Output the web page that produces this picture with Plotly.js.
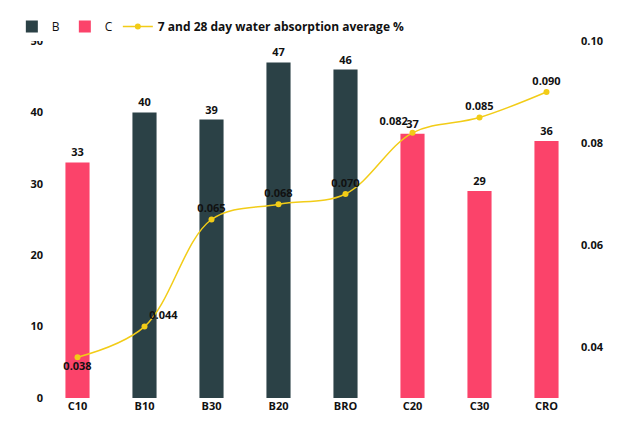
<!DOCTYPE html><html><head><script src="https://cdn.plot.ly/plotly-3.0.1.min.js"></script></head><body style="margin:0"><div id="c" style="width:640px;height:424px"></div><script>
const categories=["C10","B10","B30","B20","BRO","C20","C30","CRO"];
const bValues=[null,40,39,47,46,null,null,null];
const cValues=[33,null,null,null,null,37,29,36];
const absorption=[0.038,0.044,0.065,0.068,0.070,0.082,0.085,0.090];
const absLabels=absorption.map(v=>v.toFixed(3));
const tf={family:"Open Sans",size:11,color:"#111"};
const bold=v=>v==null?"":"<b>"+v+"</b>";
Plotly.newPlot("c",[
{type:"bar",name:"B",x:categories,y:bValues,marker:{color:"#2b4146"},width:0.36,text:bValues.map(bold),textposition:"outside",textfont:tf,cliponaxis:false},
{type:"bar",name:"C",x:categories,y:cValues,marker:{color:"#fb436a"},width:0.36,text:cValues.map(bold),textposition:"outside",textfont:tf,cliponaxis:false},
{type:"scatter",mode:"lines+markers+text",name:"<b>7 and 28 day water absorption average %</b>",x:categories,y:absorption,yaxis:"y2",line:{color:"#f2cc17",width:1.5,shape:"spline"},marker:{color:"#f2cc17",size:6},text:absLabels.map(bold),textposition:["bottom center","top right","top center","top center","top center","top left","top center","top center"],textfont:tf,cliponaxis:false}
],{
margin:{l:35,r:60,t:24,b:26},paper_bgcolor:"#fff",plot_bgcolor:"#fff",barmode:"overlay",
showlegend:true,legend:{orientation:"h",x:-0.06,y:1.0,xanchor:"left",yanchor:"bottom",font:{family:"Open Sans",size:12,color:"#111"},itemwidth:30,tracegroupgap:0},
xaxis:{tickfont:tf,showline:false,ticks:"",tickprefix:"<b>",ticksuffix:"</b>"},
yaxis:{range:[0,50],dtick:10,showgrid:false,zeroline:false,tickfont:tf,tickprefix:"<b>",ticksuffix:"</b>"},
yaxis2:{overlaying:"y",side:"right",range:[0.03,0.10],tickvals:[0.04,0.06,0.08,0.10],ticktext:["<b>0.04</b>","<b>0.06</b>","<b>0.08</b>","<b>0.10</b>"],showgrid:false,zeroline:false,tickfont:tf}
},{displayModeBar:false});
</script></body></html>
